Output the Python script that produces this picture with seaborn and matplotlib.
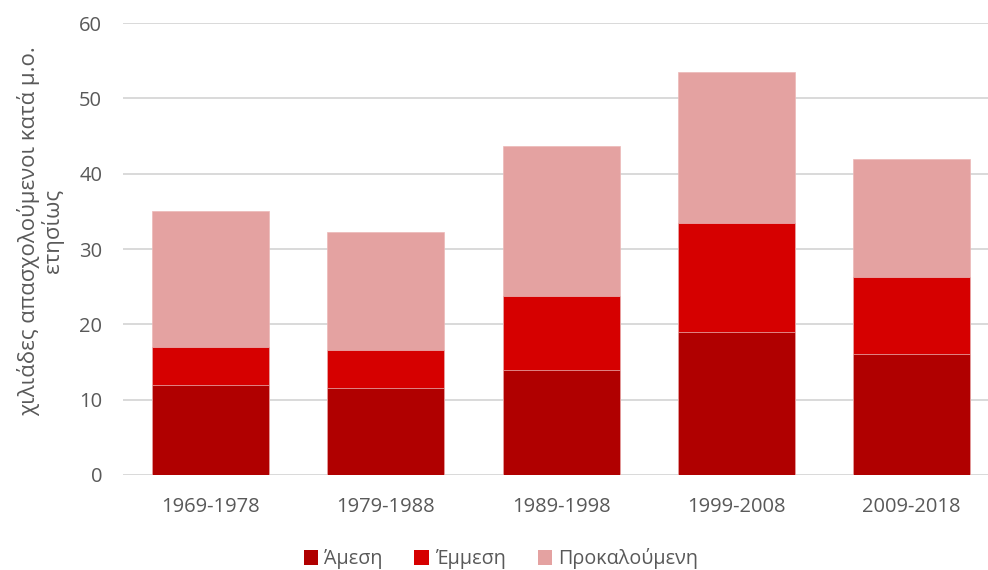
import numpy as np
import pandas as pd
import matplotlib
matplotlib.use("Agg")
import matplotlib.pyplot as plt
import seaborn as sns
from matplotlib.patches import Patch

periods = ["1969-1978", "1979-1988", "1989-1998", "1999-2008", "2009-2018"]
amesi = [12.0, 11.5, 14.0, 18.95, 16.0]
emmesi = [5.0, 5.1, 9.7, 14.55, 10.3]
prokaloumeni = [18.0, 15.65, 20.0, 19.95, 15.7]
series_names = ["Άμεση", "Έμμεση", "Προκαλούμενη"]
colors = ["#B00000", "#D60000", "#E4A2A1"]
yticks = [0, 10, 20, 30, 40, 50, 60]
ylabel = "χιλιάδες απασχολούμενοι κατά μ.ο.\nετησίως"

sns.set_theme(style="white")
plt.rcParams['font.family'] = ['Open Sans', 'DejaVu Sans']
text_color = "#595959"

df = pd.DataFrame({"period": periods, "a": amesi, "e": emmesi, "p": prokaloumeni})
df["c1"] = df["a"]
df["c2"] = df["a"] + df["e"]
df["c3"] = df["c2"] + df["p"]

fig = plt.figure(figsize=(9.88, 5.70), dpi=100)
ax = fig.add_axes([0.1245, 0.1667, 0.8755, 0.7929])

for col, colr in zip(["c3", "c2", "c1"], colors[::-1]):
    sns.barplot(data=df, x="period", y=col, color=colr, width=0.668,
                saturation=1, ax=ax, edgecolor="#ecb8b8", linewidth=0.5,
                order=periods, zorder=3)

ax.set_ylim(0, 60)
ax.set_xlim(-0.5, 4.437)
ax.set_yticks(yticks)
ax.yaxis.grid(True, color="#D9D9D9", linewidth=1.4, zorder=0)
ax.set_axisbelow(True)
for s in ax.spines.values():
    s.set_visible(False)
ax.tick_params(axis="both", length=0, labelsize=14.5, colors=text_color)
ax.tick_params(axis="x", pad=16)
ax.tick_params(axis="y", pad=15)
ax.set_xlabel("")
ax.set_ylabel(ylabel, fontsize=16, color=text_color, linespacing=1.05)
ax.yaxis.set_label_coords(-0.068, 0.54)

handles = [Patch(facecolor=c, edgecolor="none") for c in colors]
fig.legend(handles, series_names, loc="lower center", bbox_to_anchor=(0.507, -0.03),
           ncol=3, frameon=False, fontsize=14.2, labelcolor=text_color,
           handlelength=0.75, handleheight=0.75, handletextpad=0.3, columnspacing=1.6)

fig.savefig("out.png", dpi=100)
